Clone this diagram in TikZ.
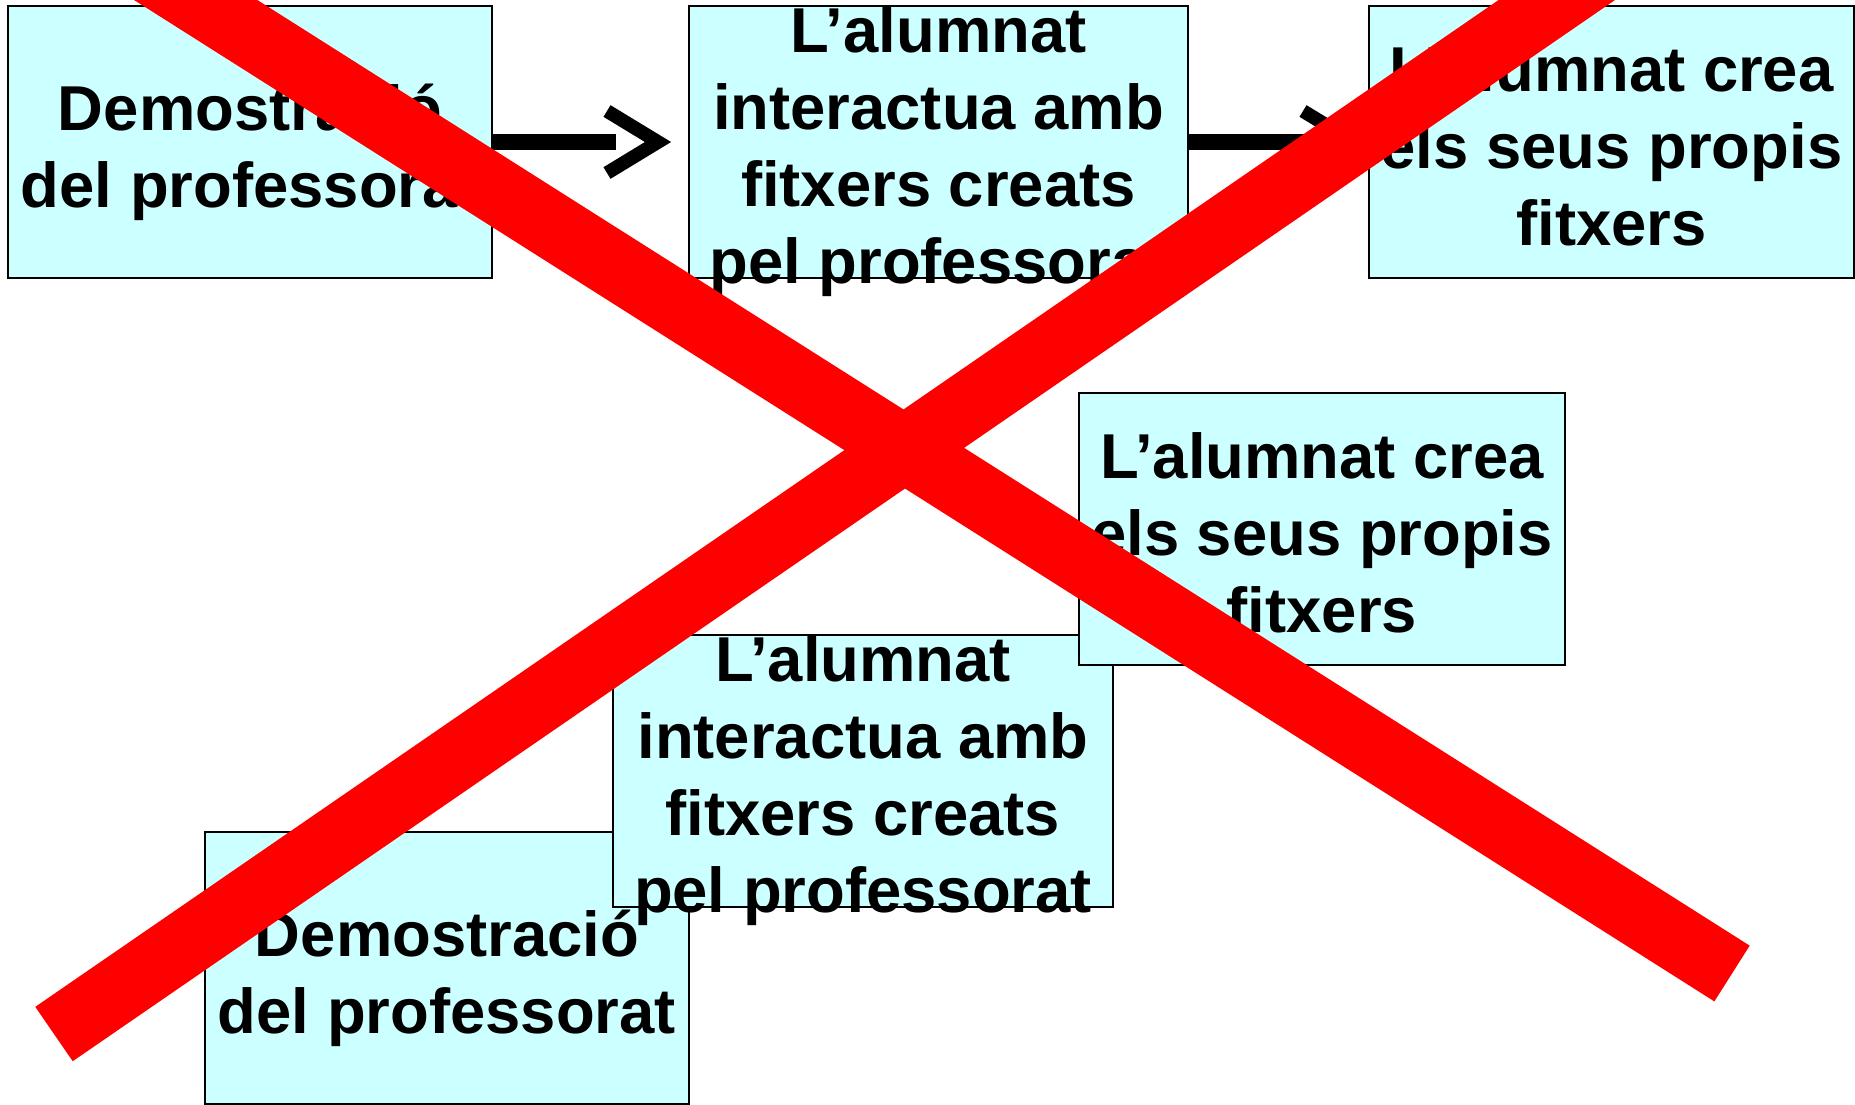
\documentclass[tikz,border=0pt]{standalone}
\usepackage{fontspec}
\setmainfont{Liberation Sans}
\definecolor{boxcyan}{HTML}{CCFFFF}
\definecolor{xred}{HTML}{FF0000}
\begin{document}
\begin{tikzpicture}[x=0.5pt,y=-0.5pt,
  box/.style={draw=black, line width=0.7pt, fill=boxcyan, minimum height=136pt, inner sep=0pt, outer sep=0pt},
  txt/.style={font=\fontsize{31.7}{38.5}\selectfont\bfseries, align=center, inner sep=0pt,
              execute at begin node=\strut, execute at end node=\strut},
  shaft/.style={line width=8pt},
  chev/.style={line width=6.8pt, miter limit=10},
  cross/.style={line width=33pt, draw=xred}
]
\clip (0,0) rectangle (1855,1104);
\fill[white] (0,0) rectangle (1855,1104);

% top row
\node[box, minimum width=242pt] (A) at (250,142) {};
\node[txt] (tA) at ([yshift=-7.5pt]A.center) {Demostració\\del professorat};
\node[box, minimum width=249.5pt] (B) at (938.5,142) {};
\node[txt] (tB) at ([yshift=-7.5pt]B.center) {L’alumnat\\interactua amb\\fitxers creats\\pel professorat};
\node[box, minimum width=242.5pt] (C) at (1611.5,142) {};
\node[txt] (tC) at ([yshift=-7.5pt]C.center) {L’alumnat crea\\els seus propis\\fitxers};

% arrows
\draw[shaft] (A.east) -- ++(124,0) coordinate (s1);
\draw[chev] ([shift={(115,-31)}]A.east) -- ([shift={(166,0)}]A.east) coordinate (h1) -- ([shift={(115,31)}]A.east);
\draw[shaft] (B.east) -- ++(124,0) coordinate (s2);
\draw[chev] ([shift={(115,-31)}]B.east) -- ([shift={(166,0)}]B.east) coordinate (h2) -- ([shift={(115,31)}]B.east);

% staircase
\node[box, minimum width=242pt] (F) at (447,968) {};
\node[txt] (tF) at ([yshift=-7.5pt]F.center) {Demostració\\del professorat};
\node[box, minimum width=250pt] (E) at (863,771) {};
\node[txt] (tE) at ([yshift=-7.5pt]E.center) {L’alumnat\\interactua amb\\fitxers creats\\pel professorat};
\node[box, minimum width=243pt] (D) at (1322,529) {};
\node[txt] (tD) at ([yshift=-7.5pt]D.center) {L’alumnat crea\\els seus propis\\fitxers};

% red cross
\coordinate (x1s) at (101,-60);
\coordinate (x1e) at (1732,973.5);
\coordinate (x2s) at (1644,-60);
\coordinate (x2e) at (54,1034);
\draw[cross] (x1s) -- (x1e);
\draw[cross] (x2s) -- (x2e);
\end{tikzpicture}
\end{document}
